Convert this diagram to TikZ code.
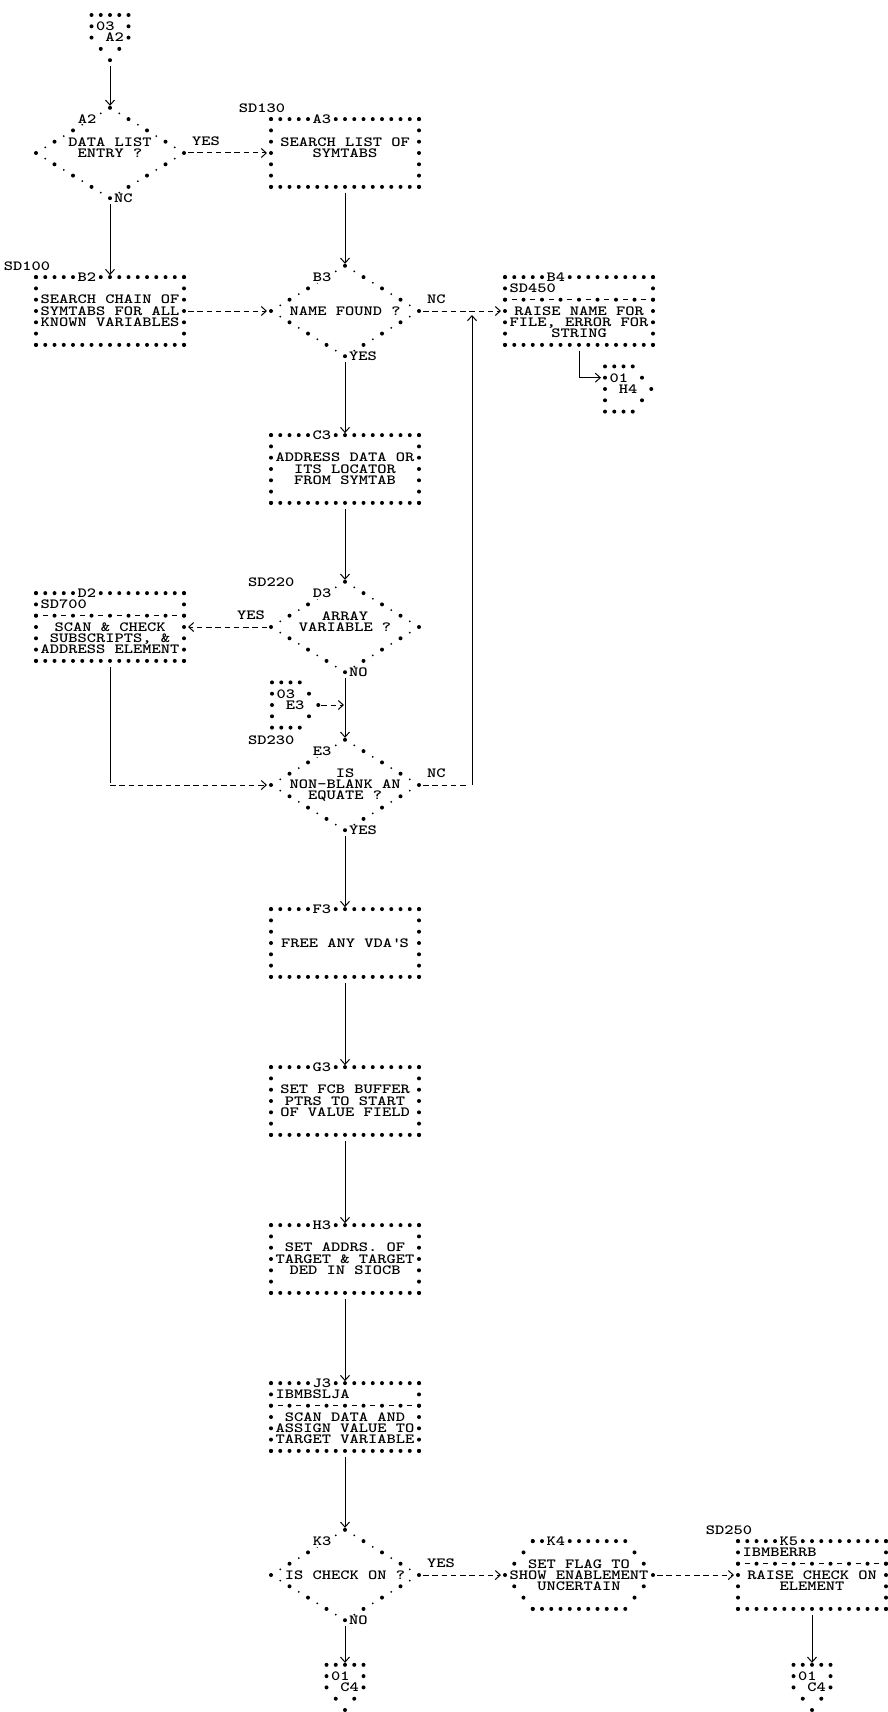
\documentclass[tikz,border=0pt]{standalone}
\usepackage{fontspec}
\usepackage{tikz}
\usetikzlibrary{shapes.geometric,arrows.meta}
\newfontfamily\ibmface[FakeStretch=1.2585]{lmmonolt10-bold.otf}
\newcommand{\chartfont}{\ibmface\fontsize{14}{11.3}\selectfont}
\newcommand{\offpagedots}[1]{%
  \foreach \c/\r in {-2/2,-1/2,0/2,1/2,2/2,-2/1,2/1,-2/0,2/0,-1/-1,1/-1,0/-2}
    \fill ([shift={(\c*9.25pt,\r*11.3pt)}]#1.center) circle (2pt);}
\newcommand{\onpagedots}[1]{%
  \foreach \c/\r in {-2/2,-1/2,0/2,1/2,-2/1,2/1,-2/0,3/0,-2/-1,2/-1,-2/-2,-1/-2,0/-2,1/-2}
    \fill ([shift={(\c*9.25pt,\r*11.3pt)}]#1.center) circle (2pt);}

\begin{document}
\begin{tikzpicture}[x=1pt, y=1pt,
  stars/.style={line width=4pt, line cap=round, dash pattern=on 0pt off 9.25pt},
  sidestars/.style={line width=4pt, line cap=round, dash pattern=on 0pt off 11.3pt},
  slantstars/.style={line width=4pt, line cap=round, dash pattern=on 0pt off 14.6pt},
  starbox/.style={rectangle, minimum width=148pt, minimum height=67.8pt,
    inner sep=0pt, outer sep=0pt, align=center, font=\chartfont},
  decision/.style={diamond, draw, line width=4pt, line cap=round,
    dash pattern=on 0pt off 21.678pt,
    preaction={draw, line width=2pt, line cap=round, dash pattern=on 0pt off 10.839pt},
    minimum width=148pt, minimum height=90.4pt, inner sep=0pt, outer sep=0pt},
  diamtext/.style={font=\chartfont, align=center, inner sep=0pt},
  offpage/.style={minimum width=37pt, minimum height=45.2pt, inner sep=0pt,
    outer sep=0pt, align=left, font=\chartfont},
  boxid/.style={fill=white, inner xsep=2pt, inner ysep=1pt, font=\chartfont},
  tag/.style={inner sep=0pt, font=\chartfont},
  sepdots/.style={line width=4pt, line cap=round, dash pattern=on 0pt off 18.5pt},
  sepdash/.style={line width=1pt, dash pattern=on 5pt off 13.5pt, dash phase=11.75pt},
  flow/.style={line width=1pt, -{Straight Barb[length=5pt,width=9pt]},
    shorten <=6pt, shorten >=2pt},
  jump/.style={line width=1pt, dash pattern=on 5.5pt off 3.75pt,
    -{Straight Barb[length=5pt,width=9pt]}, shorten <=4pt, shorten >=4pt}]

\fill[white] (0,0) rectangle (888,-1712);
\useasboundingbox (0,0) rectangle (888,-1712);

\node[offpage] (top03) at (110,-37.6) {03\\~A2\\~};
\offpagedots{top03}

\node[decision, label={[diamtext]center:{DATA LIST\\ENTRY ?\\~}}] (a2) at (110,-153) {};
\node[starbox] (a3) at (345,-153) {SEARCH LIST OF\\SYMTABS\\~};

\node[starbox] (b2) at (110,-311) {SEARCH CHAIN OF\\SYMTABS FOR ALL\\KNOWN VARIABLES};
\node[decision, label={[diamtext]center:{NAME FOUND ?}}] (b3) at (345,-311) {};
\node[starbox] (b4) at (579,-311)
  {\makebox[138.75pt][l]{SD450}\\[11.3pt]RAISE NAME FOR\\FILE, ERROR FOR\\STRING};
\node[offpage] (h4) at (623.5,-389) {01\\~H4\\~};
\onpagedots{h4}

\node[starbox] (c3) at (345,-469) {ADDRESS DATA OR\\ITS LOCATOR\\FROM SYMTAB};

\node[starbox] (d2) at (110,-627)
  {\makebox[138.75pt][l]{SD700}\\[11.3pt]SCAN \& CHECK\\SUBSCRIPTS, \&\\ADDRESS ELEMENT};
\node[decision, label={[diamtext]center:{ARRAY\\VARIABLE ?\\~}}] (d3) at (345,-627) {};

\node[offpage] (e3in) at (290.5,-705) {03\\~E3\\~};
\onpagedots{e3in}
\node[decision, label={[diamtext]center:{IS\\NON-BLANK AN\\EQUATE ?}}] (e3) at (345,-785) {};

\node[starbox] (f3) at (345,-943) {FREE ANY VDA\textquotesingle S};
\node[starbox] (g3) at (345,-1101) {SET FCB BUFFER\\PTRS TO START\\OF VALUE FIELD};
\node[starbox] (h3) at (345,-1259) {SET ADDRS. OF\\TARGET \& TARGET\\DED IN SIOCB};
\node[starbox] (j3) at (345,-1417)
  {\makebox[138.75pt][l]{IBMBSLJA}\\[11.3pt]SCAN DATA AND\\ASSIGN VALUE TO\\TARGET VARIABLE};

\node[decision, label={[diamtext]center:{IS CHECK ON ?}}] (k3) at (345,-1575) {};
\node[starbox] (k4) at (579,-1575) {SET FLAG TO\\SHOW ENABLEMENT\\UNCERTAIN};
\draw[stars] ([xshift=27.75pt]k4.north west) -- ([xshift=-27.75pt]k4.north east);
\draw[stars] ([xshift=27.75pt]k4.south west) -- ([xshift=-27.75pt]k4.south east);
\draw[slantstars] ([xshift=27.75pt]k4.north west) -- (k4.west) -- ([xshift=27.75pt]k4.south west);
\draw[slantstars] ([xshift=-27.75pt]k4.north east) -- (k4.east) -- ([xshift=-27.75pt]k4.south east);
\node[starbox] (k5) at (812,-1575)
  {\makebox[138.75pt][l]{IBMBERRB}\\[11.3pt]RAISE CHECK ON\\ELEMENT\\~};

\node[offpage] (c4a) at (345,-1687.4) {01\\~C4\\~};
\offpagedots{c4a}
\node[offpage] (c4b) at (812,-1687.4) {01\\~C4\\~};
\offpagedots{c4b}

\foreach \n in {a3,b2,b4,c3,d2,f3,g3,h3,j3,k5} {
  \draw[stars] (\n.north west) -- (\n.north east) (\n.south west) -- (\n.south east);
  \draw[sidestars] (\n.north west) -- (\n.south west) (\n.north east) -- (\n.south east);
}
\foreach \n in {b4,d2,j3,k5} {
  \draw[sepdots] ([yshift=-22.6pt]\n.north west) -- ([yshift=-22.6pt]\n.north east);
  \draw[sepdash] ([yshift=-22.6pt]\n.north west) -- ([yshift=-22.6pt]\n.north east);
}
\foreach \n/\t in {a3/A3,b2/B2,b4/B4,c3/C3,d2/D2,f3/F3,g3/G3,h3/H3,j3/J3,k4/K4,k5/K5}
  \node[boxid] (\n-id) at ([xshift=50.9pt]\n.north west) {\t};
\foreach \n/\t in {a2/A2,b3/B3,d3/D3,e3/E3,k3/K3}
  \node[boxid] (\n-id) at ([xshift=-23pt,yshift=33.9pt]\n.center) {\t};

\node[tag, anchor=west] (sd130) at ([xshift=-32.4pt,yshift=11.3pt]a3.north west) {SD130};
\node[tag, anchor=west] (sd100) at ([xshift=-32.4pt,yshift=11.3pt]b2.north west) {SD100};
\node[tag, anchor=west] (sd250) at ([xshift=-32.4pt,yshift=11.3pt]k5.north west) {SD250};
\node[tag, anchor=west] (sd220) at ([xshift=-97pt]d3.north) {SD220};
\node[tag, anchor=west] (sd230) at ([xshift=-97pt]e3.north) {SD230};

\node[tag, anchor=west] (a2yes) at ([xshift=8pt,yshift=11.3pt]a2.east) {YES};
\node[tag, anchor=west] (a2no) at ([xshift=4pt]a2.south) {NC};
\node[tag, anchor=west] (b3no) at ([xshift=8pt,yshift=11.3pt]b3.east) {NC};
\node[tag, anchor=west] (b3yes) at ([xshift=4pt]b3.south) {YES};
\node[tag, anchor=east] (d3yes) at ([xshift=-6pt,yshift=11.3pt]d3.west) {YES};
\node[tag, anchor=west] (d3no) at ([xshift=4pt]d3.south) {NO};
\node[tag, anchor=west] (e3no) at ([xshift=8pt,yshift=11.3pt]e3.east) {NC};
\node[tag, anchor=west] (e3yes) at ([xshift=4pt]e3.south) {YES};
\node[tag, anchor=west] (k3yes) at ([xshift=8pt,yshift=11.3pt]k3.east) {YES};
\node[tag, anchor=west] (k3no) at ([xshift=4pt]k3.south) {NO};

\draw[flow] (top03.south) -- (a2.north);
\draw[jump] (a2.east) -- (a3.west);
\draw[flow] (a2.south) -- (b2.north);
\draw[flow] (a3.south) -- (b3.north);
\draw[jump] (b2.east) -- (b3.west);
\draw[jump] (b3.east) -- (b4.west);
\draw[flow, shorten >=4pt] (b4.south) |- ([yshift=11.3pt]h4.west);
\draw[flow] (b3.south) -- (c3.north);
\draw[flow] (c3.south) -- (d3.north);
\draw[jump] (d3.west) -- (d2.east);
\draw[flow] (d3.south) -- (e3.north);
\draw[jump, shorten <=3pt, shorten >=1pt] ([xshift=9.25pt]e3in.east) -- (e3in.east -| d3.south);
\draw[flow, -] (d2.south) -- (d2.south |- e3.west);
\draw[jump, shorten <=0pt] (d2.south |- e3.west) -- (e3.west);
\draw[jump, -] (e3.east) -- ++(53,0) coordinate (e3back);
\draw[flow, shorten <=0pt, shorten >=4pt] (e3back) -- (e3back |- b4.west);
\draw[flow] (e3.south) -- (f3.north);
\draw[flow] (f3.south) -- (g3.north);
\draw[flow] (g3.south) -- (h3.north);
\draw[flow] (h3.south) -- (j3.north);
\draw[flow] (j3.south) -- (k3.north);
\draw[jump] (k3.east) -- (k4.west);
\draw[jump] (k4.east) -- (k5.west);
\draw[flow] (k3.south) -- (c4a.north);
\draw[flow] (k5.south) -- (c4b.north);
\end{tikzpicture}
\end{document}
